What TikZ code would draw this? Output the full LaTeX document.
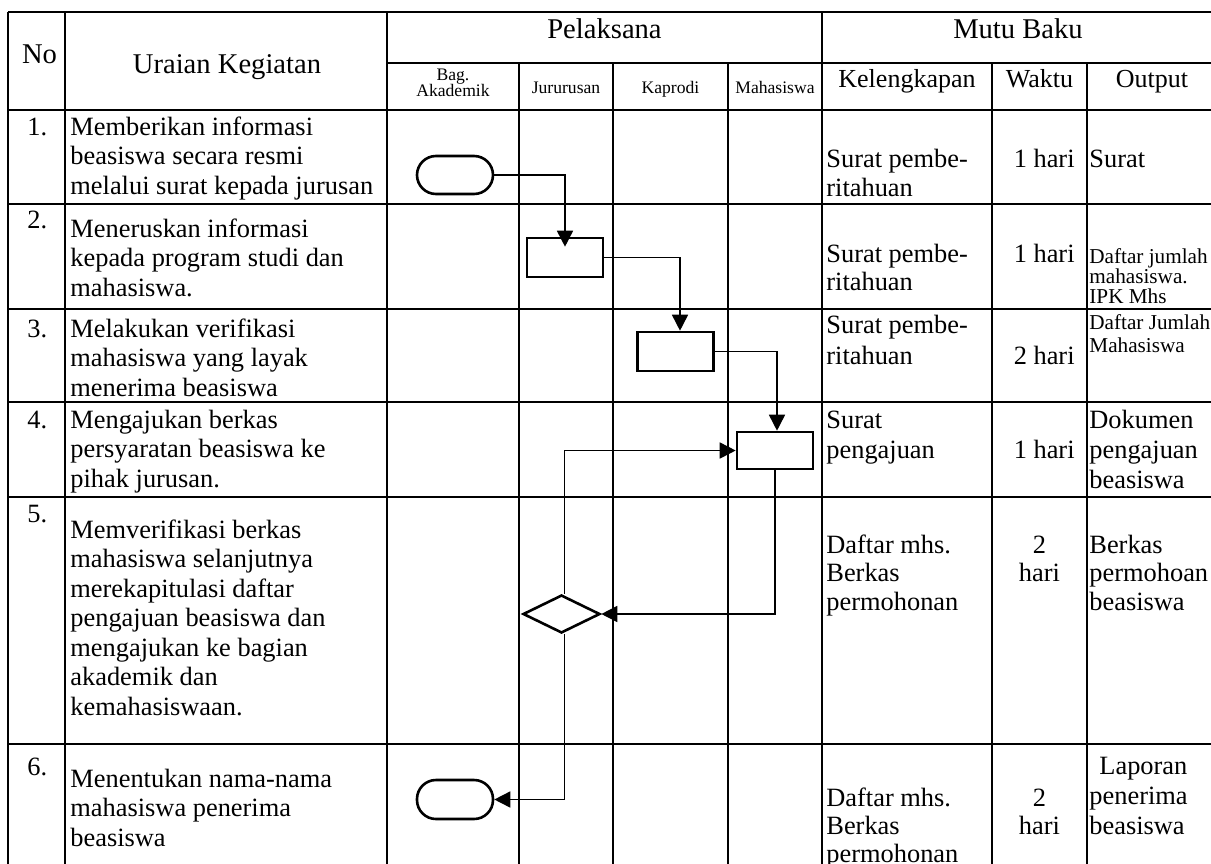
\documentclass[tikz,border=0pt]{standalone}
\usepackage{fontspec}
\setmainfont{Liberation Serif}
\usetikzlibrary{shapes.geometric,arrows.meta}
\newcommand\mlL[2]{\vtop{\baselineskip=#1\lineskiplimit=-100pt\lineskip=0pt\halign{##\hfil\cr#2\crcr}}}
\newcommand\mlC[2]{\vtop{\baselineskip=#1\lineskiplimit=-100pt\lineskip=0pt\halign{\hfil##\hfil\cr#2\crcr}}}
\tikzset{
  tline/.style={line width=0.6pt},
  txt/.style={inner sep=0pt, font=\fontsize{13.2}{14.75}\selectfont},
  rtxt/.style={inner sep=0pt, font=\fontsize{13.2}{14.75}\selectfont},
  stxt/.style={inner sep=0pt, font=\fontsize{10.6}{10}\selectfont},
  hbig/.style={inner sep=0pt, font=\fontsize{14.3}{16}\selectfont},
  hmed/.style={inner sep=0pt, font=\fontsize{13}{15}\selectfont},
  hsmall/.style={inner sep=0pt, font=\fontsize{8.8}{7.5}\selectfont},
  shp/.style={draw, line width=1.3pt, inner sep=0pt, fill=white},
  term/.style={shp, rectangle, rounded corners=9.5pt, minimum width=38pt, minimum height=19pt},
  proc/.style={shp, rectangle, minimum width=38pt, minimum height=19.5pt},
  dec/.style={shp, diamond, minimum width=38.5pt, minimum height=19pt},
  conn/.style={line width=0.8pt, -{Triangle[length=8pt,width=8pt]}}
}
\begin{document}
\begin{tikzpicture}[x=0.5pt,y=-0.5pt]
\useasboundingbox (0,0) rectangle (1211,863);
\clip (0,0) rectangle (1211,863);
% ---------- table grid ----------
\draw[tline] (8,12) -- (1215,12);
\draw[tline] (387,63) -- (1215,63);
\foreach \yy in {110,204,309,402,497,744} \draw[tline] (8,\yy) -- (1215,\yy);
\foreach \xx in {8,65,387,822} \draw[tline] (\xx,12) -- (\xx,870);
\foreach \xx in {519,613,728,992,1087} \draw[tline] (\xx,63) -- (\xx,870);
% ---------- header ----------
\node[hbig, anchor=base] (hno) at (39.5,63) {No};
\node[hbig, anchor=base] (hur) at (227,73) {Uraian Kegiatan};
\node[hbig, anchor=base] (hpel) at (604.5,38) {Pelaksana};
\node[hbig, anchor=base] (hmutu) at (1018,38) {Mutu Baku};
\node[hsmall, anchor=base] (hbag) at (453,80) {\mlC{8.2pt}{Bag.\cr Akademik}};
\node[hsmall, anchor=base] (hjur) at (566,93) {Jururusan};
\node[hsmall, anchor=base] (hkap) at (670.5,93) {Kaprodi};
\node[hsmall, anchor=base] (hmhs) at (775,93) {Mahasiswa};
\node[hmed, anchor=base] (hkel) at (907,87) {Kelengkapan};
\node[hmed, anchor=base] (hwak) at (1039.5,87) {Waktu};
\node[hmed, anchor=base] (hout) at (1152,87) {Output};
% ---------- numbers ----------
\node[txt, anchor=base west] (n1) at (27,135) {1.};
\node[txt, anchor=base west] (n2) at (27,228) {2.};
\node[txt, anchor=base west] (n3) at (27,337) {3.};
\node[txt, anchor=base west] (n4) at (27,428) {4.};
\node[txt, anchor=base west] (n5) at (27,522) {5.};
\node[txt, anchor=base west] (n6) at (27,775) {6.};
% ---------- uraian ----------
\node[txt, anchor=base west] (u1) at (70,135) {\mlL{14.75pt}{Memberikan informasi\cr beasiswa secara resmi\cr melalui surat kepada jurusan}};
\node[txt, anchor=base west] (u2) at (70,237) {\mlL{14.75pt}{Meneruskan informasi\cr kepada program studi dan\cr mahasiswa.}};
\node[txt, anchor=base west] (u3) at (70,337) {\mlL{14.75pt}{Melakukan verifikasi\cr mahasiswa yang layak\cr menerima beasiswa}};
\node[txt, anchor=base west] (u4) at (70,428) {\mlL{14.75pt}{Mengajukan berkas\cr persyaratan beasiswa ke\cr pihak jurusan.}};
\node[txt, anchor=base west] (u5) at (70,538) {\mlL{14.75pt}{Memverifikasi berkas\cr mahasiswa selanjutnya\cr merekapitulasi daftar\cr pengajuan beasiswa dan\cr mengajukan ke bagian\cr akademik dan\cr kemahasiswaan.}};
\node[txt, anchor=base west] (u6) at (70,787) {\mlL{14.75pt}{Menentukan nama-nama\cr mahasiswa penerima\cr beasiswa}};
% ---------- kelengkapan ----------
\node[rtxt, anchor=base west] (k1) at (826,167) {\mlL{14.75pt}{Surat pembe-\cr ritahuan}};
\node[rtxt, anchor=base west] (k2) at (826,262) {\mlL{14.25pt}{Surat pembe-\cr ritahuan}};
\node[rtxt, anchor=base west] (k3) at (826,333) {\mlL{15.5pt}{Surat pembe-\cr ritahuan}};
\node[rtxt, anchor=base west] (k4) at (826,428) {\mlL{15pt}{Surat\cr pengajuan}};
\node[rtxt, anchor=base west] (k5) at (826,553) {\mlL{14.25pt}{Daftar mhs.\cr Berkas\cr permohonan}};
\node[rtxt, anchor=base west] (k6) at (826,806) {\mlL{14pt}{Daftar mhs.\cr Berkas\cr permohonan}};
% ---------- waktu ----------
\node[rtxt, anchor=base east] (w1) at (1075,167) {1 hari};
\node[rtxt, anchor=base east] (w2) at (1075,262) {1 hari};
\node[rtxt, anchor=base east] (w3) at (1075,364) {2 hari};
\node[rtxt, anchor=base east] (w4) at (1075,458) {1 hari};
\node[rtxt, anchor=base] (w5) at (1039.5,553) {\mlC{14.25pt}{2\cr hari}};
\node[rtxt, anchor=base] (w6) at (1039.5,806) {\mlC{14pt}{2\cr hari}};
% ---------- output ----------
\node[rtxt, anchor=base west] (o1) at (1089,167) {Surat};
\node[stxt, anchor=base west] (o2) at (1089,263) {\mlL{10.1pt}{Daftar jumlah\cr mahasiswa.\cr IPK Mhs}};
\node[stxt, anchor=base west] (o3) at (1089,329) {\mlL{11.75pt}{Daftar Jumlah\cr Mahasiswa}};
\node[rtxt, anchor=base west] (o4) at (1089,428) {\mlL{15pt}{Dokumen\cr pengajuan\cr beasiswa}};
\node[rtxt, anchor=base west] (o5) at (1089,553) {\mlL{14.25pt}{Berkas\cr permohoan\cr beasiswa}};
\node[rtxt, anchor=base west] (o6) at (1089,774) {\mlL{15pt}{\hspace*{5pt}Laporan\cr penerima\cr beasiswa}};
% ---------- flow shapes ----------
\node[term] (t1) at (455,175) {};
\node[proc] (b2) at (565,257.5) {};
\node[proc] (b3) at (675.5,351.5) {};
\node[proc, minimum height=18.5pt] (b4) at (775,450.5) {};
\node[dec] (d5) at (561.5,614) {};
\node[term, minimum height=19.5pt] (t6) at (455,799.5) {};
% ---------- connectors ----------
\draw[conn, shorten >=-5pt] (t1.east) -| (b2.north);
\draw[conn] (b2.east) -| ([xshift=2.25pt]b3.north);
\draw[conn] (b3.east) -| ([xshift=1pt]b4.north);
\draw[conn] (b4.south) |- (d5.east);
\draw[conn] ([xshift=1.5pt]d5.north) |- (b4.west);
\draw[conn] ([xshift=1.5pt]d5.south) |- (t6.east);
\end{tikzpicture}
\end{document}
